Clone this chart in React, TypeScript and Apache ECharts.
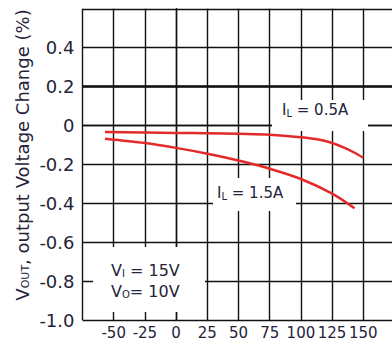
import React, { useEffect, useRef } from 'react';
import * as echarts from 'echarts';

// Temperature axis (°C)
const xMin = -75;
const xMax = 175;
const xStep = 25;
const xTickLabels = [-50, -25, 0, 25, 50, 75, 100, 125, 150];

// Output voltage change axis (%)
const yMin = -1.0;
const yMax = 0.6;
const yStep = 0.2;
const yTickValues = [-1.0, -0.8, -0.6, -0.4, -0.2, 0, 0.2, 0.4];
const yTickLabels = ['-1.0', '-0.8', '-0.6', '-0.4', '-0.2', '0', '0.2', '0.4'];

// I_L = 0.5A curve
const temp05 = [-57, 0, 25, 50, 75, 100, 115, 125, 135, 143, 150];
const dv05 = [-0.033, -0.038, -0.04, -0.043, -0.047, -0.06, -0.073, -0.09, -0.115, -0.14, -0.166];

// I_L = 1.5A curve
const temp15 = [-57, -25, 0, 25, 50, 75, 100, 125, 143];
const dv15 = [-0.068, -0.09, -0.115, -0.145, -0.18, -0.222, -0.275, -0.35, -0.425];

// Limit line
const limitValue = 0.2;

const TXT = '#24243a';
const FONT = 'DejaVu Sans';
const RED = '#e32b2b';

function richStyle(main: number, sub: number, pad: number) {
  return {
    m: { fontSize: main, fontFamily: FONT, fill: TXT, verticalAlign: 'top' },
    s: { fontSize: sub, fontFamily: FONT, fill: TXT, verticalAlign: 'bottom', padding: [pad, 0, 0, 0] },
  };
}

export default function App() {
  const ref = useRef<HTMLDivElement>(null);
  useEffect(() => {
    if (!ref.current) return;
    const chart = echarts.init(ref.current, undefined, { renderer: 'svg' });
    const fmtY = (v: number) => {
      const i = yTickValues.findIndex((t) => Math.abs(t - v) < 1e-6);
      return i >= 0 ? yTickLabels[i] : '';
    };
    const fmtX = (v: number) => (xTickLabels.indexOf(Math.round(v)) >= 0 ? String(Math.round(v)) : '');
    chart.setOption({
      animation: false,
      grid: { left: 82.5, right: 5.5, top: 8.8, bottom: 26, containLabel: false },
      xAxis: {
        type: 'value',
        min: xMin,
        max: xMax,
        interval: xStep,
        axisLine: { show: true, lineStyle: { color: '#111', width: 1.4 } },
        axisTick: { show: false },
        splitLine: { show: true, lineStyle: { color: '#111', width: 1.4 } },
        axisLabel: { formatter: fmtX, fontFamily: FONT, fontSize: 15, color: TXT, margin: 5 },
      },
      yAxis: {
        type: 'value',
        min: yMin,
        max: yMax,
        interval: yStep,
        axisLine: { show: true, lineStyle: { color: '#111', width: 1.4 } },
        axisTick: { show: false },
        splitLine: { show: true, lineStyle: { color: '#111', width: 1.4 } },
        axisLabel: { formatter: fmtY, fontFamily: FONT, fontSize: 18, color: TXT, margin: 8 },
      },
      series: [
        {
          type: 'line',
          data: temp05.map((t, i) => [t, dv05[i]]),
          smooth: 0.3,
          showSymbol: false,
          lineStyle: { color: RED, width: 2.5 },
          markLine: {
            silent: true,
            symbol: ['none', 'none'],
            label: { show: false },
            lineStyle: { color: '#111', width: 2.6, type: 'solid' },
            data: [{ yAxis: limitValue }],
          },
        },
        {
          type: 'line',
          data: temp15.map((t, i) => [t, dv15[i]]),
          smooth: 0.3,
          showSymbol: false,
          lineStyle: { color: RED, width: 2.5 },
        },
      ],
      graphic: [
        { type: 'rect', z: 1, shape: { x: 272, y: 100, width: 96, height: 31 }, style: { fill: '#fff' } },
        {
          type: 'text', z: 1, x: 282, y: 102,
          style: { text: '{m|I}{s|L}{m| = 0.5A}', rich: richStyle(15, 10, 6) },
        },
        { type: 'rect', z: 1, shape: { x: 213, y: 178, width: 83, height: 33 }, style: { fill: '#fff' } },
        {
          type: 'text', z: 1, x: 217, y: 185,
          style: { text: '{m|I}{s|L}{m| = 1.5A}', rich: richStyle(15, 10, 6) },
        },
        { type: 'rect', z: 1, shape: { x: 93, y: 247, width: 112, height: 65 }, style: { fill: '#fff' } },
        {
          type: 'text', z: 1, x: 111, y: 262,
          style: { text: '{m|V}{s|I}{m| = 15V}', rich: richStyle(16, 10, 6) },
        },
        {
          type: 'text', z: 1, x: 111, y: 283,
          style: { text: '{m|V}{s|O}{m|= 10V}', rich: richStyle(16, 10, 6) },
        },
        {
          type: 'text', z: 1, x: 22, y: 155, rotation: Math.PI / 2,
          style: {
            text: '{m|V}{s|OUT}{m|, output Voltage Change (%)}',
            rich: richStyle(18, 11, 7),
            align: 'center',
            verticalAlign: 'middle',
          },
        },
      ],
    });
    return () => chart.dispose();
  }, []);
  return (
    <div style={{ position: 'fixed', left: 0, top: 0, width: 392, height: 346, overflow: 'hidden', background: '#fff' }}>
      <div ref={ref} style={{ width: 400, height: 346 }} />
    </div>
  );
}
